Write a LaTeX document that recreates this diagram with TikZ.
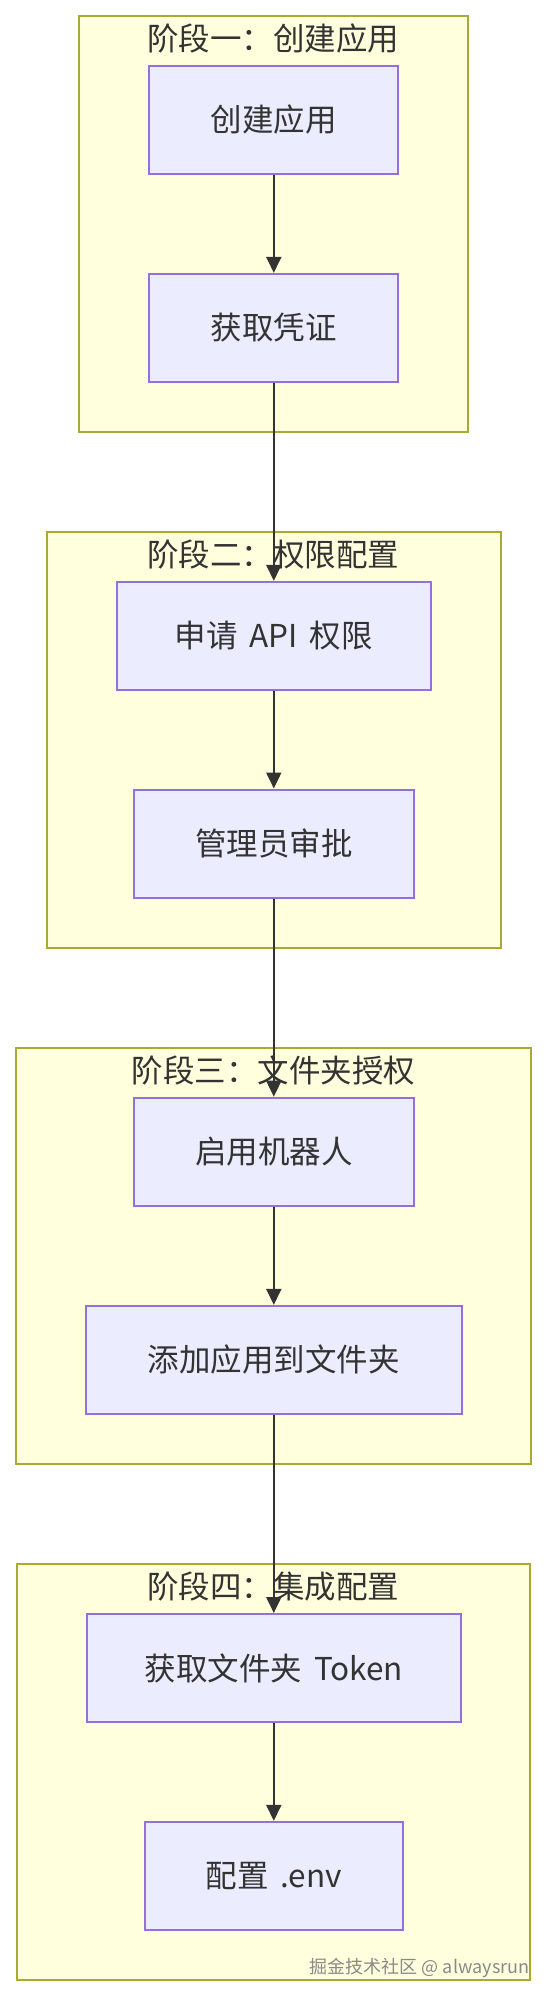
\documentclass[tikz,border=0pt]{standalone}
\usepackage{fontspec}
\setmainfont{Noto Sans CJK SC}
\usetikzlibrary{arrows.meta}
\definecolor{stagefill}{HTML}{FFFFDE}
\definecolor{stageline}{HTML}{AAAA33}
\definecolor{nodefill}{HTML}{ECECFF}
\definecolor{nodeline}{HTML}{9370DB}
\definecolor{ink}{HTML}{333333}
\definecolor{wm}{HTML}{8A8A8A}
\newcommand\mynodefont{\fontsize{31.5}{36}\selectfont\spaceskip 0.38em\relax}
\tikzset{
  stagebox/.style={draw=stageline, fill=stagefill, line width=2pt},
  stagetitle/.style={text=ink, font=\fontsize{31.5}{36}\selectfont, inner sep=0pt},
  stepbox/.style={draw=nodeline, fill=nodefill, line width=2pt, minimum height=108pt,
    inner sep=0pt, text=ink, font=\mynodefont},
  flow/.style={draw=ink, line width=2pt, -{Triangle[length=16pt,width=15pt]}},
}
\begin{document}
\begin{tikzpicture}[x=1pt,y=-1pt]
\useasboundingbox (0,0) rectangle (548,1996);
\fill[white] (0,0) rectangle (548,1996);
% stages
\path[stagebox] (79,15.7) rectangle (468.3,432);
\path[stagebox] (47.3,531.6) rectangle (500.7,948);
\path[stagebox] (15.7,1047.5) rectangle (531.3,1463.5);
\path[stagebox] (17.3,1563.8) rectangle (530.3,1979.5);
% titles
\node[stagetitle] (t1) at (273.3,38.7) {阶段一：创建应用};
\node[stagetitle] (t2) at (273.3,554.6) {阶段二：权限配置};
\node[stagetitle] (t3) at (273.3,1070.5) {阶段三：文件夹授权};
\node[stagetitle] (t4) at (273.3,1586.6) {阶段四：集成配置};
% nodes
\node[stepbox, minimum width=248.8pt] (a1) at (273.8,119.85) {创建应用};
\node[stepbox, minimum width=248.8pt] (a2) at (273.8,327.85) {获取凭证};
\node[stepbox, minimum width=313.7pt] (b1) at (273.8,635.85) {申请 API 权限};
\node[stepbox, minimum width=280.5pt] (b2) at (273.8,843.5) {管理员审批};
\node[stepbox, minimum width=280.2pt] (c1) at (273.8,1151.7) {启用机器人};
\node[stepbox, minimum width=376.3pt] (c2) at (273.8,1359.85) {添加应用到文件夹};
\node[stepbox, minimum width=374pt] (d1) at (273.8,1668) {获取文件夹 Token};
\node[stepbox, minimum width=257.6pt] (d2) at (273.8,1875.85) {配置 .env};
% connectors
\draw[flow] (a1.south) -- (a2.north);
\draw[flow] (a2.south) -- (b1.north);
\draw[flow] (b1.south) -- (b2.north);
\draw[flow] (b2.south) -- (c1.north);
\draw[flow] (c1.south) -- (c2.north);
\draw[flow] (c2.south) -- (d1.north);
\draw[flow] (d1.south) -- (d2.north);
% watermark
\node[anchor=base east, inner sep=0pt, text=wm, font=\fontsize{18}{21}\selectfont] (wm) at (529.5,1973.5) {掘金技术社区 @ alwaysrun};
\end{tikzpicture}
\end{document}
